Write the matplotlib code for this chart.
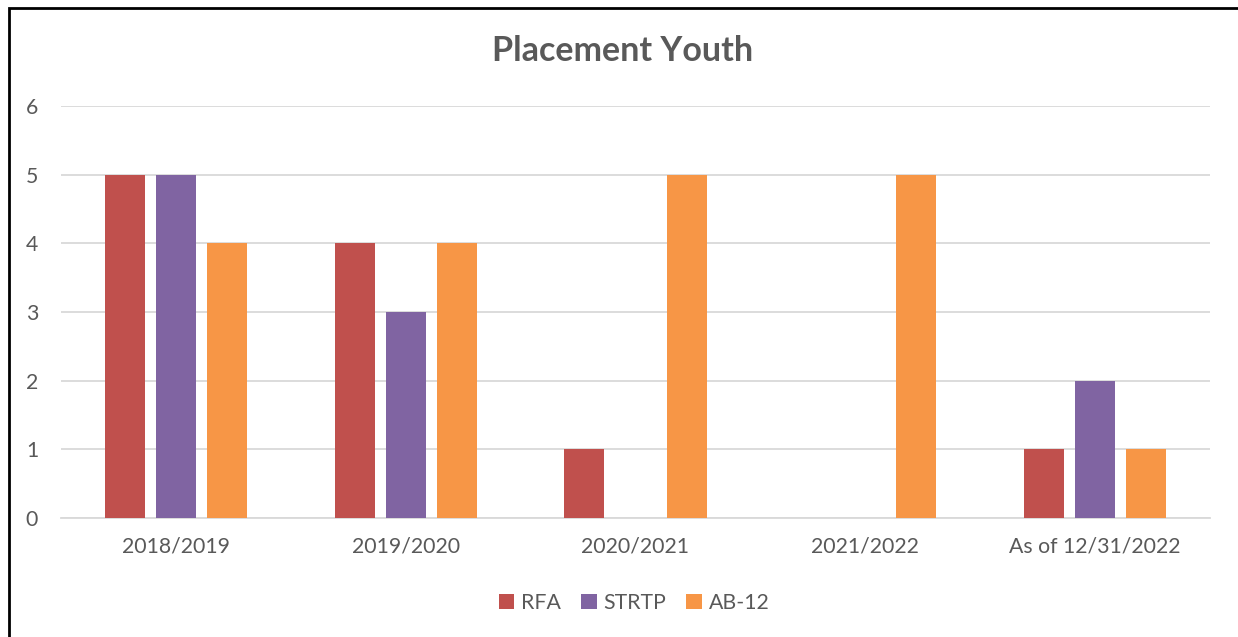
import matplotlib
matplotlib.use("Agg")
import matplotlib.pyplot as plt
import numpy as np
from matplotlib.patches import Rectangle

categories = ["2018/2019", "2019/2020", "2020/2021", "2021/2022", "As of 12/31/2022"]
series_names = ["RFA", "STRTP", "AB-12"]
rfa = [5, 4, 1, 0, 1]
strtp = [5, 3, 0, 0, 2]
ab12 = [4, 4, 5, 5, 1]
colors = ["#C0504D", "#8064A2", "#F79646"]

plt.rcParams['font.family'] = ['Lato', 'DejaVu Sans']
text_color = "#595959"

fig = plt.figure(figsize=(12.38, 6.37), dpi=100)
ax = fig.add_axes([61/1238, 1-518/637, (1210-61)/1238, (518-106)/637])

x = np.arange(len(categories))
width = 0.174
offset = 0.222
for i, (vals, name, c) in enumerate(zip([rfa, strtp, ab12], series_names, colors)):
    ax.bar(x + (i-1)*offset, vals, width, color=c, label=name, zorder=3)

ax.set_xlim(-0.5, len(categories)-0.5)
ax.set_ylim(0, 6)
ax.set_yticks(range(0, 7))
ax.yaxis.grid(True, color="#D9D9D9", linewidth=1.3, zorder=0)
ax.set_xticks(x)
ax.set_xticklabels(categories)
for s in ["top", "right", "left"]:
    ax.spines[s].set_visible(False)
ax.spines["bottom"].set_color("#D9D9D9")
ax.spines["bottom"].set_linewidth(1.3)
ax.tick_params(axis="both", length=0, labelsize=15.3, colors=text_color)
ax.tick_params(axis="x", pad=13)
ax.tick_params(axis="y", pad=16.5)

fig.text(0.503, 1-51/637, "Placement Youth", ha="center", va="center",
         fontsize=24.5, fontweight="bold", color=text_color)

handles, labels = ax.get_legend_handles_labels()
fig.legend(handles, labels, loc="center", bbox_to_anchor=(0.512, 1-603/637),
           ncol=3, frameon=False, fontsize=15.3, labelcolor=text_color,
           handlelength=0.75, handleheight=0.75, handletextpad=0.3, columnspacing=0.95)

fig.patches.append(Rectangle((9/1238, -0.1), 1.2, 1-8/637+0.1, transform=fig.transFigure,
                             fill=False, edgecolor="black", linewidth=2, zorder=10))

fig.savefig("out.png", dpi=100)
